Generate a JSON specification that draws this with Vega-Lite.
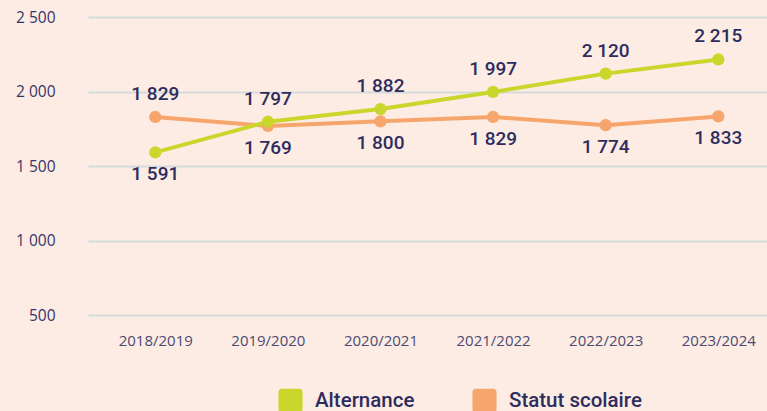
{
  "$schema": "https://vega.github.io/schema/vega-lite/v6.json",
  "width": 679,
  "height": 298,
  "autosize": "none",
  "padding": {"left": 88, "top": 17, "right": 0, "bottom": 96},
  "background": "#fdece3",
  "config": {
    "view": {"stroke": null},
    "locale": {"number": {"decimal": ",", "thousands": " ", "grouping": [3], "currency": ["", " €"]}}
  },
  "data": {
    "values": [
      {"annee": "2018/2019", "serie": "Statut scolaire", "valeur": 1829},
      {"annee": "2019/2020", "serie": "Statut scolaire", "valeur": 1769},
      {"annee": "2020/2021", "serie": "Statut scolaire", "valeur": 1800},
      {"annee": "2021/2022", "serie": "Statut scolaire", "valeur": 1829},
      {"annee": "2022/2023", "serie": "Statut scolaire", "valeur": 1774},
      {"annee": "2023/2024", "serie": "Statut scolaire", "valeur": 1833},
      {"annee": "2018/2019", "serie": "Alternance", "valeur": 1591},
      {"annee": "2019/2020", "serie": "Alternance", "valeur": 1797},
      {"annee": "2020/2021", "serie": "Alternance", "valeur": 1882},
      {"annee": "2021/2022", "serie": "Alternance", "valeur": 1997},
      {"annee": "2022/2023", "serie": "Alternance", "valeur": 2120},
      {"annee": "2023/2024", "serie": "Alternance", "valeur": 2215}
    ]
  },
  "encoding": {
    "x": {
      "field": "annee", "type": "ordinal", "sort": null,
      "scale": {"type": "point", "padding": 0.515, "align": 0.58},
      "axis": {"title": null, "labelAngle": 0, "ticks": false, "domain": false, "grid": false,
               "labelFont": "Open Sans", "labelFontSize": 15, "labelColor": "#4b4a72", "labelPadding": 18}
    },
    "y": {
      "field": "valeur", "type": "quantitative",
      "scale": {"domain": [500, 2500], "nice": false, "zero": false},
      "axis": {"title": null, "values": [500, 1000, 1500, 2000, 2500], "format": ",d",
               "ticks": false, "domain": false, "grid": true, "gridColor": "#d5dadd", "gridWidth": 2,
               "labelFont": "Open Sans", "labelFontSize": 15.5, "labelColor": "#35356a", "labelPadding": 33}
    }
  },
  "layer": [
    {
      "mark": {"type": "line", "strokeWidth": 4},
      "encoding": {
        "color": {
          "field": "serie", "type": "nominal",
          "scale": {"domain": ["Alternance", "Statut scolaire"], "range": ["#c9d72d", "#f6a66d"]},
          "legend": {
            "title": null, "orient": "none", "direction": "horizontal",
            "legendX": 190, "legendY": 371,
            "symbolType": "M-1,-0.7Q-1,-1,-0.7,-1L0.7,-1Q1,-1,1,-0.7L1,0.7Q1,1,0.7,1L-0.7,1Q-1,1,-1,0.7Z",
            "symbolSize": 580, "symbolStrokeWidth": 0, "symbolOpacity": 1,
            "labelFont": "Roboto", "labelFontSize": 20.5, "labelFontWeight": 500, "labelColor": "#2e2c5f",
            "labelOffset": 12, "columnPadding": 57, "labelLimit": 300
          }
        }
      }
    },
    {
      "mark": {"type": "point", "filled": true, "size": 150, "opacity": 1},
      "encoding": {
        "color": {"field": "serie", "type": "nominal", "legend": null}
      }
    },
    {
      "transform": [{"filter": "(datum.serie === 'Alternance' && datum.annee !== '2018/2019') || (datum.serie === 'Statut scolaire' && datum.annee === '2018/2019')"}],
      "mark": {"type": "text", "dy": -23, "baseline": "middle", "font": "Roboto", "fontSize": 19, "fontWeight": 500, "color": "#2e2c5f"},
      "encoding": {"text": {"field": "valeur", "type": "quantitative", "format": ",d"}}
    },
    {
      "transform": [{"filter": "!((datum.serie === 'Alternance' && datum.annee !== '2018/2019') || (datum.serie === 'Statut scolaire' && datum.annee === '2018/2019'))"}],
      "mark": {"type": "text", "dy": 22, "baseline": "middle", "font": "Roboto", "fontSize": 19, "fontWeight": 500, "color": "#2e2c5f"},
      "encoding": {"text": {"field": "valeur", "type": "quantitative", "format": ",d"}}
    }
  ]
}
